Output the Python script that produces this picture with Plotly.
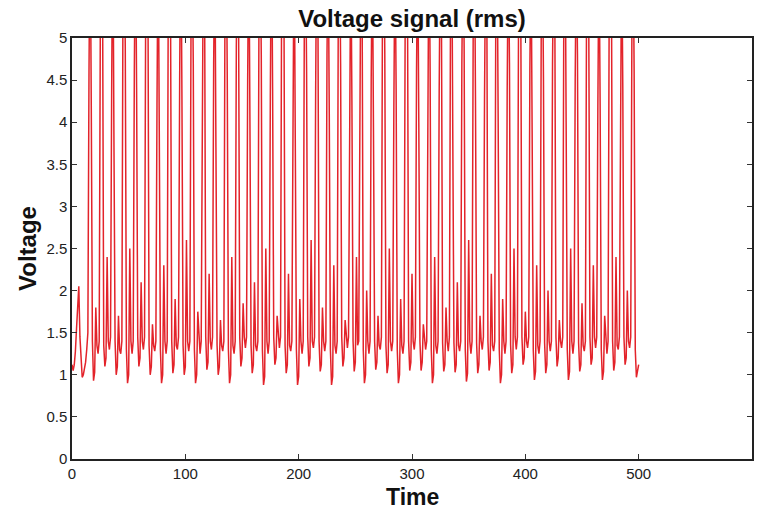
import numpy as np
import plotly.graph_objects as go

# Voltage samples (rms), one sample per time unit.
# Values above 5 run off the top of the axis, as in the original.
voltage_t0 = [1.12, 1.05, 1.12, 1.28, 1.55, 1.8, 2.05, 1.45, 1.1, 0.97,
              1.0, 1.06, 1.15, 1.3, 1.5, 4.6]
voltage_t16 = [
    6.5, 4.2, 1.4, 0.93, 1.03, 1.8, 1.35, 1.25, 1.4, 5.2,
    6.2, 5.4, 1.35, 1.1, 1.2, 2.4, 1.4, 1.3, 1.45, 4.4,
    6.6, 3.8, 1.4, 1.0, 1.1, 1.7, 1.3, 1.25, 1.4, 5.6,
    6.2, 4.9, 1.3, 0.9, 1.0, 2.5, 1.4, 1.25, 1.4, 4.6,
    6.5, 4.4, 1.45, 1.1, 1.2, 2.1, 1.4, 1.3, 1.45, 5.3,
    6.2, 5.6, 1.35, 1.0, 1.1, 1.6, 1.35, 1.28, 1.4, 4.2,
    6.4, 3.9, 1.3, 0.9, 1.0, 2.3, 1.4, 1.25, 1.4, 5.8,
    6.2, 5.1, 1.4, 1.02, 1.12, 1.9, 1.35, 1.3, 1.45, 4.5,
    6.6, 4.3, 1.35, 1.0, 1.1, 2.6, 1.4, 1.28, 1.4, 5.1,
    6.2, 4.7, 1.3, 0.9, 1.0, 1.75, 1.4, 1.25, 1.4, 4.8,
]
voltage_t116 = [
    6.4, 5.5, 1.45, 1.06, 1.15, 2.2, 1.4, 1.3, 1.45, 4.7,
    6.2, 3.7, 1.35, 1.0, 1.1, 1.65, 1.35, 1.28, 1.4, 5.5,
    6.5, 4.5, 1.3, 0.9, 1.0, 2.4, 1.35, 1.25, 1.4, 4.9,
    6.2, 5.2, 1.45, 1.1, 1.2, 1.85, 1.45, 1.32, 1.45, 4.5,
    6.4, 4.0, 1.35, 1.02, 1.12, 2.1, 1.35, 1.28, 1.4, 5.4,
    6.2, 4.8, 1.3, 0.88, 0.98, 2.5, 1.4, 1.25, 1.4, 4.3,
    6.6, 4.4, 1.45, 1.12, 1.2, 1.7, 1.45, 1.32, 1.45, 5.7,
    6.2, 5.5, 1.35, 1.02, 1.12, 2.2, 1.35, 1.28, 1.4, 4.6,
    6.4, 3.8, 1.3, 0.88, 0.98, 1.9, 1.4, 1.25, 1.4, 5.2,
    6.2, 4.6, 1.45, 1.1, 1.2, 2.6, 1.4, 1.32, 1.45, 4.4,
]
voltage_t216 = [
    6.5, 5.3, 1.4, 1.04, 1.12, 1.8, 1.4, 1.28, 1.4, 4.8,
    6.2, 4.1, 1.3, 0.88, 0.98, 2.3, 1.35, 1.25, 1.4, 5.5,
    6.4, 4.7, 1.45, 1.1, 1.2, 1.65, 1.45, 1.32, 1.45, 4.6,
    6.2, 4.2, 1.4, 1.04, 1.15, 2.4, 1.35, 1.4, 5.0,
    6.4, 5.4, 1.3, 0.9, 1.0, 2.0, 1.4, 1.25, 1.4, 4.5,
    6.2, 3.9, 1.4, 1.06, 1.15, 1.7, 1.35, 1.3, 1.45, 5.6,
    6.6, 4.8, 1.35, 1.02, 1.12, 2.5, 1.4, 1.28, 1.4, 4.2,
    6.2, 4.4, 1.3, 0.9, 1.0, 1.9, 1.35, 1.25, 1.4, 5.3,
    6.4, 5.6, 1.4, 1.05, 1.15, 2.2, 1.4, 1.3, 1.45, 4.6,
    6.2, 4.0, 1.4, 1.05, 1.15, 1.6, 1.4, 1.3, 1.4, 5.0,
]
voltage_t315 = [
    6.5, 4.6, 1.3, 0.9, 1.0, 2.4, 1.35, 1.25, 1.4, 4.4,
    6.2, 5.2, 1.38, 1.04, 1.12, 1.8, 1.4, 1.28, 1.45, 5.4,
    6.4, 3.8, 1.38, 1.03, 1.12, 2.1, 1.35, 1.28, 1.4, 4.7,
    6.2, 4.9, 1.3, 0.92, 1.02, 2.6, 1.4, 1.25, 1.4, 5.1,
    6.6, 4.3, 1.38, 1.02, 1.12, 1.7, 1.4, 1.3, 1.45, 4.3,
    6.2, 5.5, 1.4, 1.05, 1.15, 2.2, 1.35, 1.28, 1.4, 5.6,
    6.4, 4.1, 1.3, 0.9, 1.0, 1.9, 1.4, 1.25, 1.4, 4.4,
    6.2, 4.7, 1.36, 1.02, 1.12, 2.5, 1.45, 1.3, 1.45, 5.2,
    6.5, 5.3, 1.45, 1.12, 1.2, 1.75, 1.4, 1.32, 1.45, 4.6,
    6.2, 3.9, 1.3, 0.94, 1.04, 2.3, 1.35, 1.25, 1.4, 5.0,
]
voltage_t415 = [
    6.4, 4.5, 1.38, 1.02, 1.12, 2.0, 1.4, 1.28, 1.4, 4.7,
    6.2, 5.4, 1.45, 1.1, 1.2, 1.65, 1.4, 1.32, 1.45, 5.5,
    6.6, 4.0, 1.3, 0.94, 1.04, 2.5, 1.4, 1.25, 1.4, 4.5,
    6.2, 4.8, 1.38, 1.04, 1.12, 1.85, 1.35, 1.28, 1.4, 5.3,
    6.4, 5.1, 1.45, 1.12, 1.2, 2.3, 1.45, 1.32, 1.45, 4.2,
    6.2, 4.2, 1.3, 0.94, 1.04, 1.7, 1.4, 1.25, 1.4, 5.4,
    6.5, 5.6, 1.4, 1.05, 1.15, 2.4, 1.35, 1.3, 1.45, 4.8,
    6.2, 4.4, 1.45, 1.12, 1.2, 2.0, 1.4, 1.32, 1.45, 5.0,
    6.4, 4.6, 1.3, 0.97, 1.05, 1.12,
]

voltage = (voltage_t0 + voltage_t16 + voltage_t116 + voltage_t216
           + voltage_t315 + voltage_t415)
time = np.arange(len(voltage))  # one sample per time unit, starting at 0

x_ticks = [0, 100, 200, 300, 400, 500, 600]
y_ticks = [0, 0.5, 1, 1.5, 2, 2.5, 3, 3.5, 4, 4.5, 5]

tick_font = dict(family="Liberation Sans, Arial", size=15, color="#222")
label_font = dict(family="Liberation Sans, Arial", size=23, color="#111")

fig = go.Figure(go.Scatter(
    x=time, y=voltage, mode="lines",
    line=dict(color="#e3232a", width=1.5),
    showlegend=False, hoverinfo="skip",
))

axis_common = dict(
    showgrid=False, zeroline=False, showline=True, linecolor="#222", linewidth=1.5,
    mirror="ticks", ticks="inside", ticklen=5, tickwidth=1, tickcolor="#333",
    tickfont=tick_font,
)

fig.update_layout(
    width=764, height=514,
    margin=dict(l=72, r=12, t=38, b=55, autoexpand=False),
    paper_bgcolor="white", plot_bgcolor="white",
    title=dict(text="<b>Voltage signal (rms)</b>", x=0.5, xref="paper", xanchor="center",
               y=1 - 19 / 514, yref="container", yanchor="middle",
               font=dict(family="Liberation Sans, Arial", size=24, color="#111")),
    xaxis=dict(range=[0, 600], tickvals=x_ticks, **axis_common),
    yaxis=dict(range=[0, 5], tickvals=y_ticks, **axis_common),
)
fig.layout.annotations = [
    dict(text="<b>Time</b>", xref="paper", x=0.5, yref="paper", y=-(497 - 459) / 421,
         showarrow=False, font=label_font, xanchor="center", yanchor="middle"),
    dict(text="<b>Voltage</b>", xref="paper", x=-(72 - 27) / 680, yref="paper", y=(459 - 249) / 421,
         showarrow=False, font=dict(label_font, size=24), textangle=-90,
         xanchor="center", yanchor="middle"),
]

fig.write_html("out.html")
